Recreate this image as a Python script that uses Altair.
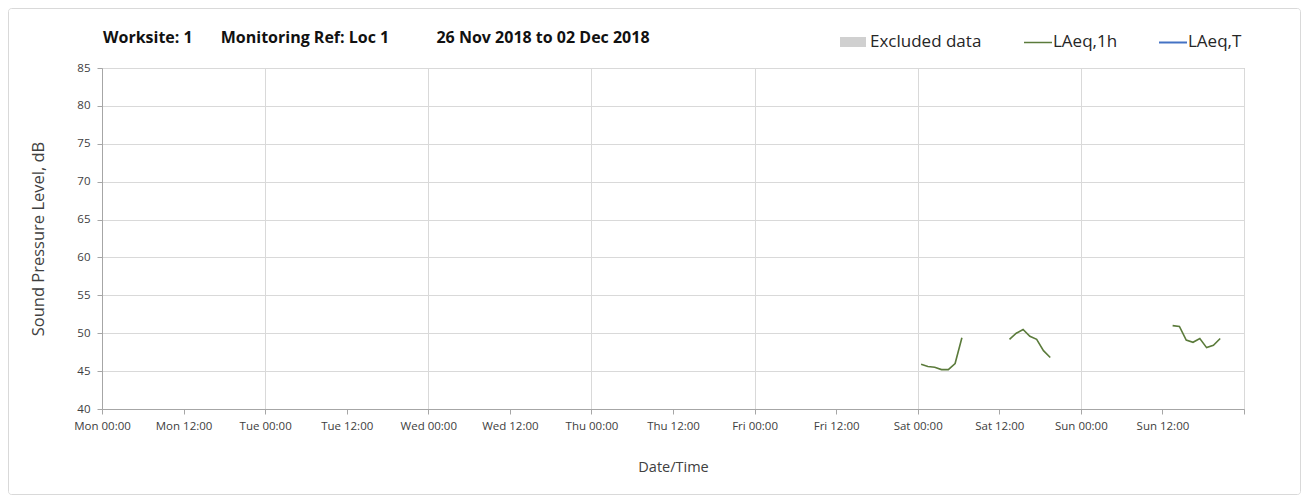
import json
import altair as alt
import pandas as pd

# ---------------- data ----------------
TITLE_PARTS = ["Worksite: 1", "Monitoring Ref: Loc 1", "26 Nov 2018 to 02 Dec 2018"]
X_TITLE = "Date/Time"
Y_TITLE = "Sound Pressure Level, dB"
LEGEND_LABELS = ["Excluded data", "LAeq,1h", "LAeq,T"]
X_TICK_LABELS = ["Mon 00:00", "Mon 12:00", "Tue 00:00", "Tue 12:00",
                 "Wed 00:00", "Wed 12:00", "Thu 00:00", "Thu 12:00",
                 "Fri 00:00", "Fri 12:00", "Sat 00:00", "Sat 12:00",
                 "Sun 00:00", "Sun 12:00", ""]
Y_TICKS = [40, 45, 50, 55, 60, 65, 70, 75, 80, 85]
START = "2018-11-26 00:00"
END = "2018-12-03 00:00"

seg1_time = ["2018-12-01 00:30", "2018-12-01 01:30", "2018-12-01 02:30",
             "2018-12-01 03:30", "2018-12-01 04:30", "2018-12-01 05:30",
             "2018-12-01 06:30"]
seg1_laeq = [45.9, 45.6, 45.5, 45.2, 45.2, 46.0, 49.4]

seg2_time = ["2018-12-01 13:30", "2018-12-01 14:30", "2018-12-01 15:30",
             "2018-12-01 16:30", "2018-12-01 17:30", "2018-12-01 18:30",
             "2018-12-01 19:30"]
seg2_laeq = [49.2, 50.0, 50.5, 49.6, 49.2, 47.7, 46.8]

seg3_time = ["2018-12-02 13:30", "2018-12-02 14:30", "2018-12-02 15:30",
             "2018-12-02 16:30", "2018-12-02 17:30", "2018-12-02 18:30",
             "2018-12-02 19:30", "2018-12-02 20:30"]
seg3_laeq = [51.0, 50.9, 49.1, 48.8, 49.3, 48.1, 48.4, 49.3]

# ---------------- table ----------------
start = pd.Timestamp(START)
span_h = (pd.Timestamp(END) - start) / pd.Timedelta(hours=1)
rows = []
for block, (times, vals) in enumerate([(seg1_time, seg1_laeq),
                                       (seg2_time, seg2_laeq),
                                       (seg3_time, seg3_laeq)]):
    for t, v in zip(times, vals):
        rows.append({"hours": (pd.Timestamp(t) - start) / pd.Timedelta(hours=1),
                     "laeq": v, "block": block})
df = pd.DataFrame(rows)

# ---------------- style ----------------
W, H = 1142, 341
FONT = "Open Sans"
GREEN = "#5b7b3b"
BLUE = "#4472c4"
GRID = "#d9d9d9"
AXIS = "#a6a6a6"
TXT = "#404040"

x_axis = alt.Axis(
    values=list(range(0, int(span_h) + 1, 12)),
    labelExpr=f"{json.dumps(X_TICK_LABELS)}[round(datum.value/12)]",
    title=X_TITLE, titleY=58, titleBaseline="middle",
    titleFont=FONT, titleFontSize=14.5, titleFontWeight="normal", titleColor=TXT,
    labelFont=FONT, labelFontSize=11.5, labelColor=TXT, labelPadding=6,
    labelFlush=False, labelOverlap=False,
    grid=True,
    gridColor={"condition": {"test": "datum.value % 24 == 0", "value": GRID},
               "value": "rgba(0,0,0,0)"},
    domainColor=AXIS, tickColor=AXIS, tickSize=5,
)
y_axis = alt.Axis(
    values=Y_TICKS, title=Y_TITLE,
    titleX=-64, titleY=H / 2, titleAlign="center", titleBaseline="middle",
    titleFont=FONT, titleFontSize=16.5, titleFontWeight="normal", titleColor=TXT,
    labelFont=FONT, labelFontSize=11.5, labelColor=TXT, labelPadding=7,
    grid=True, gridColor=GRID,
    domainColor=AXIS, tickColor=AXIS, tickSize=5,
)

line = alt.Chart(df).mark_line(color=GREEN, strokeWidth=1.6).encode(
    x=alt.X("hours:Q", scale=alt.Scale(domain=[0, span_h], nice=False, zero=False),
            axis=x_axis),
    y=alt.Y("laeq:Q", scale=alt.Scale(domain=[40, 85], nice=False, zero=False),
            axis=y_axis),
    detail="block:N",
)

one = alt.Data(values=[{}])

border = alt.Chart(one).mark_rect(fillOpacity=0, stroke=GRID, strokeWidth=1,
                                  cornerRadius=3).encode(
    x=alt.value(-93.5), x2=alt.value(W + 56.5),
    y=alt.value(-59.5), y2=alt.value(H + 85.5))


def title_text(label, xpos, align):
    return alt.Chart(one).mark_text(align=align, baseline="middle", font=FONT,
                                    fontSize=16, fontWeight="bold",
                                    color="#111111").encode(
        x=alt.value(xpos), y=alt.value(-30), text=alt.value(label))


leg_rect = alt.Chart(one).mark_rect(color="#d0d0d0").encode(
    x=alt.value(738), x2=alt.value(764), y=alt.value(-31), y2=alt.value(-21))
leg_green = alt.Chart(one).mark_rule(color=GREEN, strokeWidth=1.5).encode(
    x=alt.value(922), x2=alt.value(950), y=alt.value(-25.5))
leg_blue = alt.Chart(one).mark_rule(color=BLUE, strokeWidth=2).encode(
    x=alt.value(1057), x2=alt.value(1085), y=alt.value(-25.5))


def leg_text(label, xpos):
    return alt.Chart(one).mark_text(align="left", baseline="middle", font=FONT,
                                    fontSize=17, color="#262626").encode(
        x=alt.value(xpos), y=alt.value(-26), text=alt.value(label))


chart = alt.layer(
    border, line,
    title_text(TITLE_PARTS[0], 1, "left"),
    title_text(TITLE_PARTS[1], 203, "center"),
    title_text(TITLE_PARTS[2], 441, "center"),
    leg_rect, leg_green, leg_blue,
    leg_text(LEGEND_LABELS[0], 768),
    leg_text(LEGEND_LABELS[1], 951),
    leg_text(LEGEND_LABELS[2], 1086),
).properties(
    width=W, height=H,
    padding={"left": 94, "top": 60, "right": 57, "bottom": 86},
    autosize=alt.AutoSizeParams(type="none"),
    background="white",
).configure_view(stroke="#b4b4b4")

chart.save("out.html", embed_options={"renderer": "svg", "actions": False})
